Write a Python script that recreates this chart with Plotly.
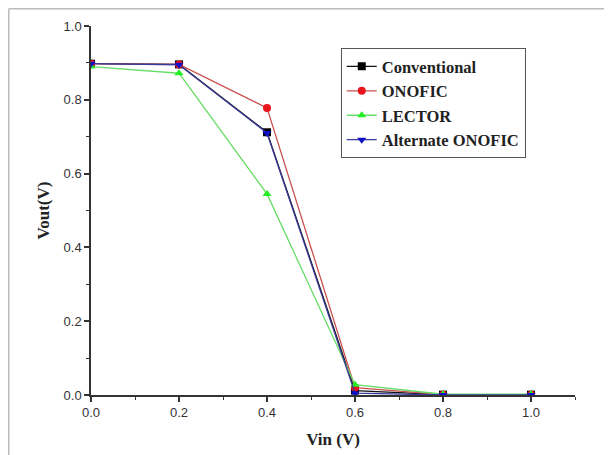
import plotly.graph_objects as go

vin = [0.0, 0.2, 0.4, 0.6, 0.8, 1.0]
conventional = [0.898, 0.896, 0.712, 0.012, 0.001, 0.001]
onofic = [0.898, 0.896, 0.778, 0.02, 0.001, 0.001]
lector = [0.890, 0.872, 0.545, 0.028, 0.002, 0.002]
alternate = [0.898, 0.895, 0.710, 0.005, 0.0, 0.0]

series = [
    ("Conventional", conventional, "#111111", "#000000", "square"),
    ("ONOFIC", onofic, "#c85050", "#e8141c", "circle"),
    ("LECTOR", lector, "#66dd66", "#22ee22", "triangle-up"),
    ("Alternate ONOFIC", alternate, "#3a3a9a", "#1010c8", "triangle-down"),
]

fig = go.Figure()
for name, ys, lc, mc, sym in series:
    fig.add_trace(go.Scatter(
        x=vin, y=ys, name="<b>" + name + "</b>", mode="lines+markers",
        line=dict(color=lc, width=1.3),
        marker=dict(color=mc, symbol=sym, size=8, line=dict(width=0)),
    ))

axis_common = dict(
    showgrid=False, zeroline=False, showline=True, linecolor="#333333", linewidth=1.5,
    ticks="outside", ticklen=5, tickwidth=1.5, tickcolor="#333333",
    tickfont=dict(family="Liberation Sans, Arial", size=13, color="#333333"),
    minor=dict(ticks="outside", ticklen=3, tickwidth=1.2, tickcolor="#333333", dtick=0.1),
)

ML, MT, PW, PH = 83, 18, 484, 369

fig.update_layout(
    width=612, height=455,
    margin=dict(l=ML, r=612 - ML - PW, t=MT, b=455 - MT - PH),
    paper_bgcolor="white", plot_bgcolor="white",
    xaxis=dict(range=[0, 1.1], dtick=0.2, tickformat=".1f",
               title=dict(text="<b>Vin (V)</b>", standoff=14,
                          font=dict(family="Liberation Serif, Times New Roman", size=17, color="#222222")),
               **axis_common),
    yaxis=dict(range=[0, 1.0], dtick=0.2, tickformat=".1f",
               title=dict(text="<b>Vout(V)</b>", standoff=10,
                          font=dict(family="Liberation Serif, Times New Roman", size=17, color="#222222")),
               **axis_common),
    legend=dict(x=0.516, y=0.94, xanchor="left", yanchor="top",
                bordercolor="#555555", borderwidth=1, bgcolor="white",
                font=dict(family="Liberation Serif, Times New Roman", size=16.5, color="#222222"),
                tracegroupgap=0, itemsizing="trace"),
    showlegend=True,
)

# outer frame (left and top edges), at the figure's edge
fx = (0.75 - ML) / PW
fy = 1 + (MT - 0.75) / PH
fig.add_shape(type="line", xref="paper", yref="paper",
              x0=fx, x1=fx, y0=fy, y1=-(455 - MT - PH + 10) / PH,
              line=dict(color="#bbbbbb", width=1.5))
fig.add_shape(type="line", xref="paper", yref="paper",
              x0=fx, x1=(612 - ML + 10) / PW, y0=fy, y1=fy,
              line=dict(color="#bbbbbb", width=1.5))

fig.write_html("out.html")
